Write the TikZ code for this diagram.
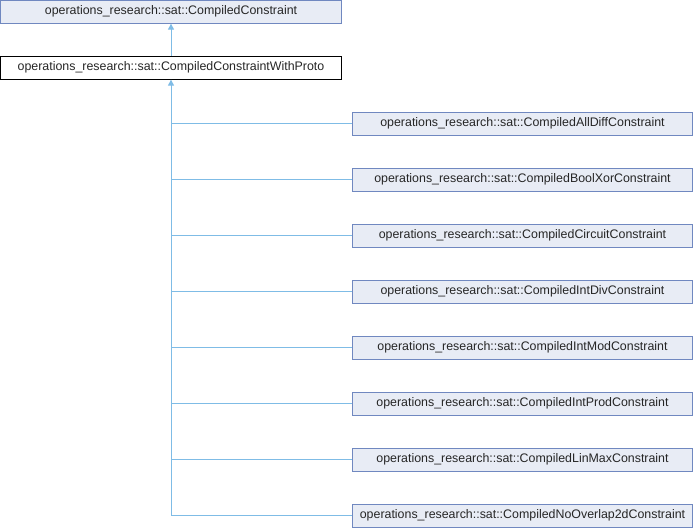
\documentclass[tikz,border=0pt]{standalone}
\usepackage{fontspec}
\setmainfont{Liberation Sans}
\usetikzlibrary{arrows.meta}
\definecolor{edgec}{HTML}{7FBCE6}
\definecolor{boxfill}{HTML}{E8ECF5}
\definecolor{boxdraw}{HTML}{7088C0}
\tikzset{
  cls/.style={draw=boxdraw, fill=boxfill, line width=0.8pt, minimum height=23pt, inner sep=0pt, text=black!85, font=\fontsize{12.4}{14}\selectfont},
  cur/.style={cls, draw=black, fill=white},
  inh/.style={draw=edgec, line width=1pt, -{Triangle[length=6pt, width=6pt, fill=edgec]}},
  inhl/.style={draw=edgec, line width=1pt}
}
\begin{document}
\begin{tikzpicture}[x=1pt,y=-1pt]
\useasboundingbox (0,0) rectangle (694,528);
\node[cls, minimum width=341pt] (base) at (171,11.75) {operations\_research::sat::CompiledConstraint};
\node[cur, minimum width=341pt] (proto) at (171,67.75) {operations\_research::sat::CompiledConstraintWithProto};
\draw[inh] (proto.north) -- (base.south);
\foreach \n/\t [count=\i from 0] in {a/CompiledAllDiffConstraint,b/CompiledBoolXorConstraint,c/CompiledCircuitConstraint,d/CompiledIntDivConstraint,e/CompiledIntModConstraint,f/CompiledIntProdConstraint,g/CompiledLinMaxConstraint,h/CompiledNoOverlap2dConstraint}{
  \node[cls, minimum width=340pt] (\n) at (522.5,{123.75+56*\i}) {operations\_research::sat::\t};
  \coordinate (j\n) at (171,{123.75+56*\i});
  \draw[inhl] (\n.west) -- (j\n);
}
\draw[inh] (jh) -- (proto.south);
\end{tikzpicture}
\end{document}
